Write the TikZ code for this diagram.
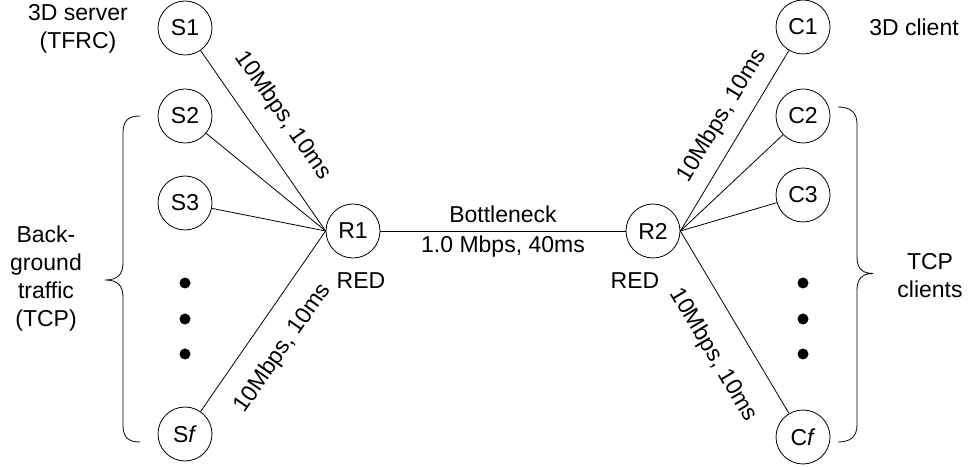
\documentclass[tikz,border=0pt]{standalone}
\usepackage{fontspec}
\setmainfont{Liberation Sans}
\begin{document}
\begin{tikzpicture}[x=1pt,y=1pt,
  every node/.style={font=\fontsize{23}{28}\selectfont},
  host/.style={circle,draw,line width=0.8pt,minimum size=54pt,inner sep=0pt},
  link/.style={line width=0.8pt},
  txt/.style={inner sep=0pt,align=center},
  dotmark/.style={circle,fill=black,minimum size=11pt,inner sep=0pt},
  brace/.style={line width=0.8pt}]
\useasboundingbox (0,0) rectangle (972,466);

% sender side
\node[host] (S1) at (185,438) {S1};
\node[host] (S2) at (185,350) {S2};
\node[host] (S3) at (185,263) {S3};
\node[host] (Sf) at (185,32)  {S\textit{f}};
\node[dotmark] (ld1) at (185,183) {};
\node[dotmark] (ld2) at (185,147) {};
\node[dotmark] (ld3) at (185,112) {};

% routers
\node[host] (R1) at (353,235) {R1};
\node[host] (R2) at (653,235) {R2};

% receiver side
\node[host] (C1) at (803,439) {C1};
\node[host] (C2) at (803,350) {C2};
\node[host] (C3) at (803,271) {C3};
\node[host] (Cf) at (803,29)  {C\textit{f}};
\node[dotmark] (rd1) at (803,183) {};
\node[dotmark] (rd2) at (803,147) {};
\node[dotmark] (rd3) at (803,112) {};

% access links
\draw[link] (S1) -- node[txt,sloped,pos=0.457,above=19.4pt] {10Mbps, 10ms} (R1.west);
\draw[link] (S2) -- (R1.west);
\draw[link] (S3) -- (R1.west);
\draw[link] (Sf) -- node[txt,sloped,pos=0.45,below=20.6pt] {10Mbps, 10ms} (R1.west);
\draw[link] (R2.east) -- node[txt,sloped,pos=0.57,above=12pt] {10Mbps, 10ms} (C1);
\draw[link] (R2.east) -- (C2);
\draw[link] (R2.east) -- (C3);
\draw[link] (R2.east) -- node[txt,sloped,pos=0.58,below=24pt] {10Mbps, 10ms} (Cf);

% bottleneck link
\draw[link] (R1) -- node[txt,midway,above=8pt] {Bottleneck}
                    node[txt,midway,below=4pt] {1.0 Mbps, 40ms} (R2);

% queue labels
\node[txt] (red1) at (361,185.5) {RED};
\node[txt] (red2) at (635,185.5) {RED};

% group labels
\node[txt] (srv) at (78,437.5) {3D server\\(TFRC)};
\node[txt] (cli) at (914,439) {3D client};
\node[txt] (bg)  at (46,187.5) {Back-\\ground\\traffic\\(TCP)};
\node[txt] (tcp) at (930,190.5) {TCP\\clients};

% braces
\draw[brace] (140,350) .. controls (128,350) and (123,345) .. (123,333)
  -- (123,203) .. controls (123,192) and (118,186) .. (105,186)
  .. controls (118,186) and (123,180) .. (123,169)
  -- (123,41) .. controls (123,29) and (128,24) .. (140,24);
\draw[brace] (838,359) .. controls (850,359) and (857,354) .. (857,342)
  -- (857,209) .. controls (857,198) and (862,192.5) .. (873,192.5)
  .. controls (862,192.5) and (857,187) .. (857,176)
  -- (857,41) .. controls (857,29) and (850,24) .. (838,24);
\end{tikzpicture}
\end{document}
